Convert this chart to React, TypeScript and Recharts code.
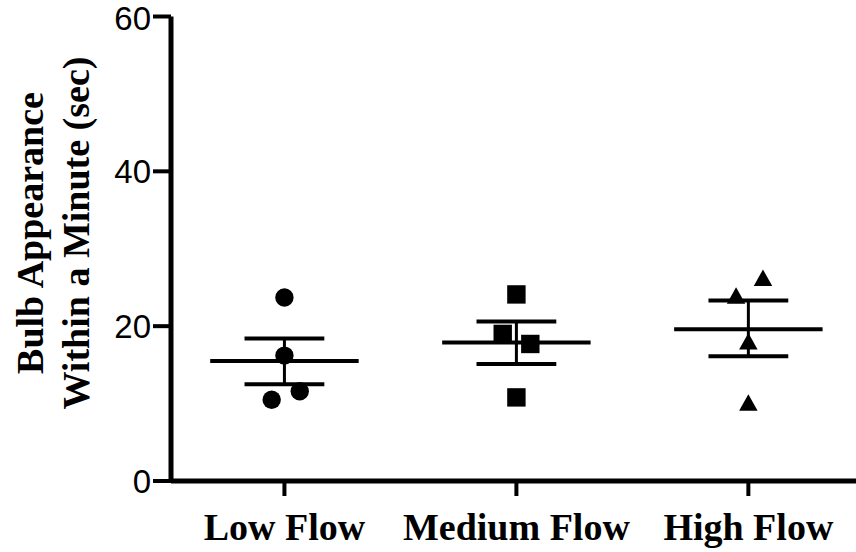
import React from 'react';
import { ScatterChart, Scatter, XAxis, YAxis, ReferenceLine } from 'recharts';

const categories = ['Low Flow', 'Medium Flow', 'High Flow'];
const categoryPos = [1, 2, 3];
const yTicks = [0, 20, 40, 60];

const lowFlow = [23.7, 16.2, 11.6, 10.5];
const mediumFlow = [24.1, 19.0, 17.7, 10.8];
const highFlow = [25.9, 23.6, 17.7, 9.8];

// horizontal jitter of points within a group (category units)
const lowJitter = [0, 0, 0.066, -0.055];
const mediumJitter = [0, -0.059, 0.06, 0];
const highJitter = [0.063, -0.053, 0, 0];

const means = [15.5, 17.9, 19.6];
const semUpper = [18.4, 20.6, 23.3];
const semLower = [12.5, 15.1, 16.1];

const toPoints = (vals: number[], jit: number[], c: number) =>
  vals.map((v, i) => ({ x: c + jit[i], y: v }));

const lowData = toPoints(lowFlow, lowJitter, categoryPos[0]);
const mediumData = toPoints(mediumFlow, mediumJitter, categoryPos[1]);
const highData = toPoints(highFlow, highJitter, categoryPos[2]);

const MEAN_HALF = 0.32;
const CAP_HALF = 0.172;

const Circle = (p: any) => <circle cx={p.cx} cy={p.cy} r={9.2} fill="#000" />;
const Square = (p: any) => (
  <rect x={p.cx - 9.2} y={p.cy - 9.2} width={18.4} height={18.4} fill="#000" />
);
const Triangle = (p: any) => {
  const w = 18.5;
  const h = 16.5;
  const d = `M${p.cx},${p.cy - (2 * h) / 3} L${p.cx + w / 2},${p.cy + h / 3} L${p.cx - w / 2},${p.cy + h / 3} Z`;
  return <path d={d} fill="#000" />;
};

const serif = '"Liberation Serif", "Times New Roman", serif';
const sans = '"Liberation Sans", Arial, Helvetica, sans-serif';

const renderYLabel = (props: any) => {
  const vb = props.viewBox || { x: 0, y: 16.5 };
  const cy = vb.y + 216.5;
  const x1 = vb.x + 43;
  const x2 = vb.x + 89;
  return (
    <g>
      <text
        x={x1}
        y={cy}
        transform={`rotate(-90 ${x1} ${cy})`}
        textAnchor="middle"
        fontFamily={serif}
        fontWeight="bold"
        fontSize={38}
        fill="#000"
      >
        Bulb Appearance
      </text>
      <text
        x={x2}
        y={cy}
        transform={`rotate(-90 ${x2} ${cy})`}
        textAnchor="middle"
        fontFamily={serif}
        fontWeight="bold"
        fontSize={38}
        fill="#000"
      >
        Within a Minute (sec)
      </text>
    </g>
  );
};

export default function App() {
  return (
    <div style={{ position: 'absolute', left: 0, top: 0, width: 856, height: 552, background: '#fff' }}>
      <ScatterChart width={856} height={552} margin={{ top: 16.5, right: 0, bottom: 0, left: 0 }}>
        <XAxis
          type="number"
          dataKey="x"
          domain={[0.511, 3.464]}
          ticks={categoryPos}
          allowDataOverflow
          tickFormatter={(v: number) => categories[Math.round(v) - 1]}
          axisLine={{ stroke: '#000', strokeWidth: 5 }}
          tickLine={{ stroke: '#000', strokeWidth: 4 }}
          tickSize={15}
          tickMargin={17}
          height={71}
          tick={{ fill: '#000', fontFamily: serif, fontWeight: 'bold', fontSize: 38 }}
          interval={0}
        />
        <YAxis
          type="number"
          dataKey="y"
          domain={[0, 60]}
          ticks={yTicks}
          width={171}
          allowDataOverflow
          axisLine={{ stroke: '#000', strokeWidth: 5 }}
          tickLine={{ stroke: '#000', strokeWidth: 4 }}
          tickSize={18}
          tickMargin={2}
          tick={{ fill: '#000', fontFamily: sans, fontSize: 33 }}
          label={renderYLabel}
        />
        {categoryPos.map((c, i) => (
          <ReferenceLine
            key={`m${i}`}
            segment={[{ x: c - MEAN_HALF, y: means[i] }, { x: c + MEAN_HALF, y: means[i] }]}
            stroke="#000"
            strokeWidth={4}
          />
        ))}
        {categoryPos.map((c, i) => (
          <ReferenceLine
            key={`u${i}`}
            segment={[{ x: c - CAP_HALF, y: semUpper[i] }, { x: c + CAP_HALF, y: semUpper[i] }]}
            stroke="#000"
            strokeWidth={4}
          />
        ))}
        {categoryPos.map((c, i) => (
          <ReferenceLine
            key={`l${i}`}
            segment={[{ x: c - CAP_HALF, y: semLower[i] }, { x: c + CAP_HALF, y: semLower[i] }]}
            stroke="#000"
            strokeWidth={4}
          />
        ))}
        {categoryPos.map((c, i) => (
          <ReferenceLine
            key={`v${i}`}
            segment={[{ x: c, y: semLower[i] }, { x: c, y: semUpper[i] }]}
            stroke="#000"
            strokeWidth={3}
          />
        ))}
        <Scatter data={lowData} shape={Circle} isAnimationActive={false} />
        <Scatter data={mediumData} shape={Square} isAnimationActive={false} />
        <Scatter data={highData} shape={Triangle} isAnimationActive={false} />
      </ScatterChart>
    </div>
  );
}
